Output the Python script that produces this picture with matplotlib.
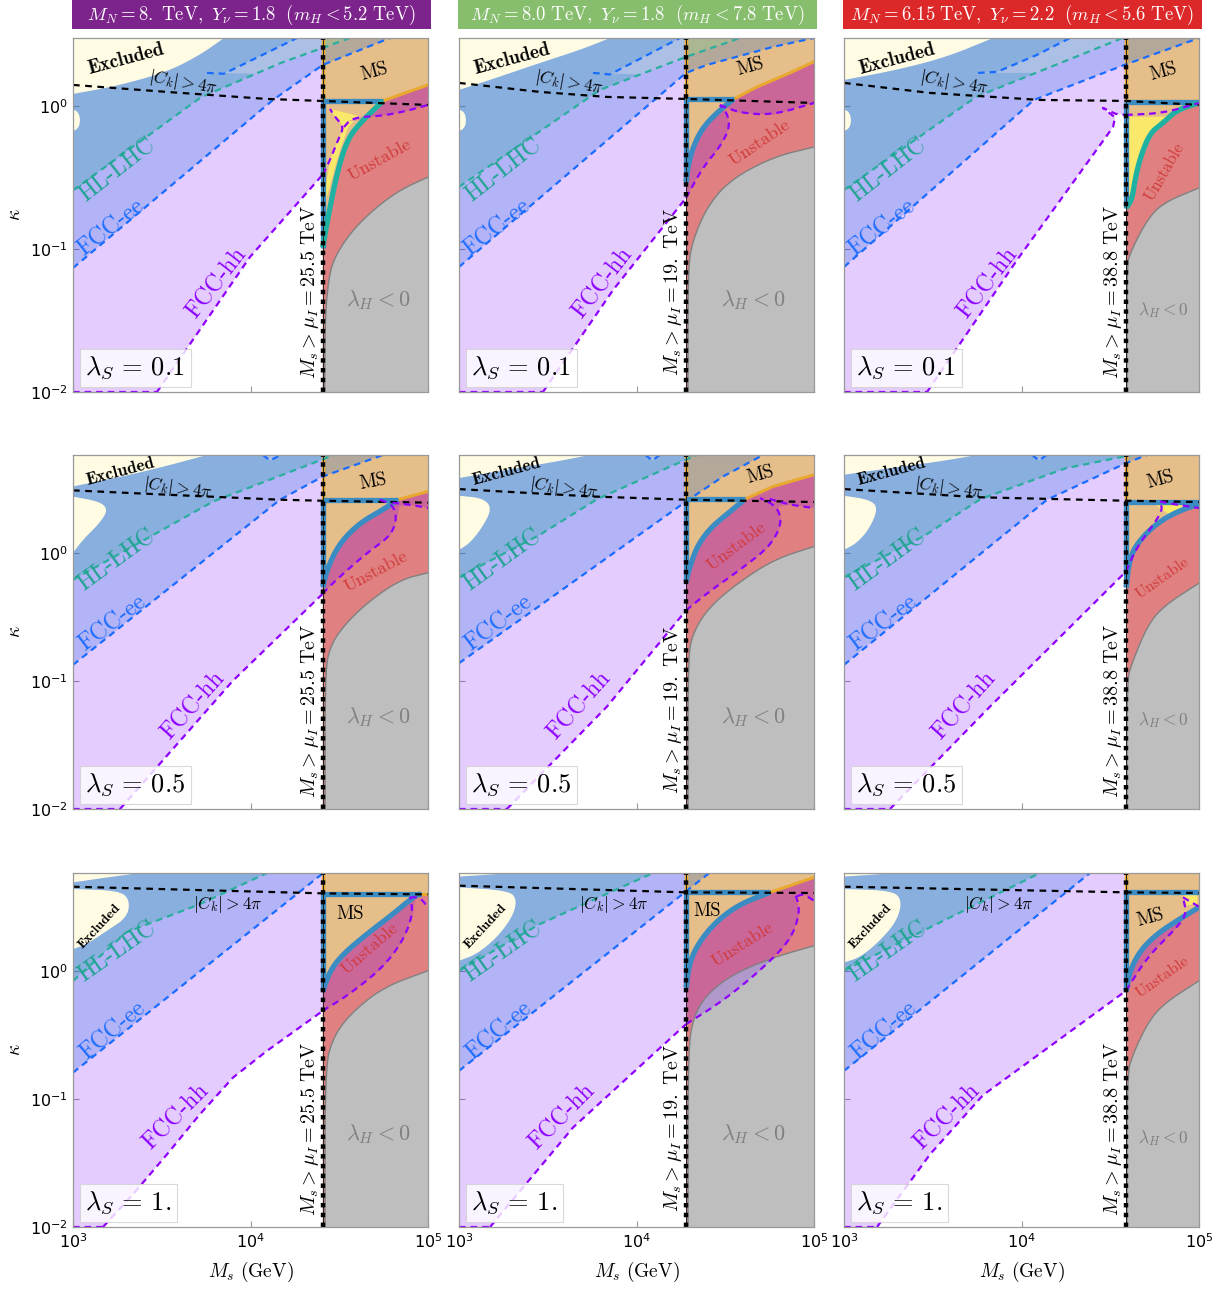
import numpy as np
import matplotlib
matplotlib.use('Agg')
import matplotlib.pyplot as plt
from matplotlib.patches import Rectangle, PathPatch
from matplotlib.path import Path
from matplotlib.ticker import NullLocator

# ---- benchmark parameters (one per column / row) ----
MN = ['8.', '8.0', '6.15']
Ynu = ['1.8', '1.8', '2.2']
mH = ['5.2', '7.8', '5.6']
muI_TeV = [25.5, 19., 38.8]
muI_lbl = ['25.5', '19.', '38.8']
lamS = ['0.1', '0.5', '1.']
head_col = ['#7D238C', '#87BE6E', '#DC2828']
y_top = [0.475, 0.763, 0.763]          # log10 of kappa upper limit per row

# ---- region boundaries, (log10 Ms/GeV, log10 kappa), panels row-major ----
ck_line = [
    [(3.0, 0.147), (3.53, 0.098), (4.09, 0.049), (4.40, 0.035), (5.0, 0.007)],
    [(3.0, 0.161), (3.456, 0.098), (3.834, 0.063), (4.279, 0.049), (5.0, 0.021)],
    [(3.0, 0.161), (3.485, 0.091), (4.104, 0.042), (4.589, 0.035), (5.0, 0.007)],
    [(3.0, 0.487), (3.53, 0.453), (4.166, 0.414), (4.407, 0.406), (5.0, 0.391)],
    [(3.0, 0.497), (3.738, 0.44), (4.279, 0.414), (5.0, 0.396)],
    [(3.0, 0.497), (3.766, 0.433), (4.589, 0.406), (5.0, 0.396)],
    [(3.0, 0.656), (4.407, 0.604), (5.0, 0.596)],
    [(3.0, 0.664), (4.279, 0.612), (5.0, 0.607)],
    [(3.0, 0.656), (4.589, 0.612), (5.0, 0.607)],
]
excl_top = [
    [(3.0, 0.084), (3.248, 0.140), (3.53, 0.238), (3.716, 0.357), (3.851, 0.475)],
    [(3.0, 0.112), (3.175, 0.182), (3.456, 0.301), (3.682, 0.392), (3.851, 0.475)],
    [(3.0, 0.182), (3.3, 0.252), (3.58, 0.343), (3.84, 0.475)],
    [(3.0, 0.518), (3.248, 0.586), (3.49, 0.664), (3.755, 0.763)],
    [(3.0, 0.583), (3.27, 0.648), (3.513, 0.703), (3.738, 0.763)],
    [(3.0, 0.609), (3.259, 0.661), (3.541, 0.713), (3.749, 0.763)],
    [(3.0, 0.69), (3.2, 0.73), (3.377, 0.763)],
    [(3.0, 0.735), (3.3, 0.763)],
    [(3.0, 0.735), (3.3, 0.763)],
]
excl_blob = [
    [(3.0, -0.025), (3.02, -0.035), (3.035, -0.06), (3.04, -0.10), (3.035, -0.14), (3.02, -0.165), (3.0, -0.175)],
    [(3.0, -0.025), (3.02, -0.035), (3.035, -0.06), (3.04, -0.10), (3.035, -0.14), (3.02, -0.165), (3.0, -0.175)],
    [(3.0, -0.025), (3.02, -0.035), (3.035, -0.06), (3.04, -0.10), (3.035, -0.14), (3.02, -0.165), (3.0, -0.175)],
    [(3.0, 0.438), (3.152, 0.399), (3.197, 0.336), (3.152, 0.234), (3.056, 0.102), (3.0, 0.0)],
    [(3.0, 0.445), (3.135, 0.426), (3.186, 0.349), (3.135, 0.206), (3.062, 0.076), (3.0, 0.023)],
    [(3.0, 0.445), (3.146, 0.414), (3.192, 0.349), (3.146, 0.193), (3.073, 0.076), (3.0, 0.023)],
    [(3.0, 0.638), (3.265, 0.625), (3.321, 0.547), (3.304, 0.416), (3.192, 0.313), (3.079, 0.208), (3.0, 0.169)],
    [(3.0, 0.651), (3.287, 0.625), (3.327, 0.547), (3.299, 0.416), (3.214, 0.26), (3.101, 0.13), (3.0, 0.078)],
    [(3.0, 0.638), (3.276, 0.625), (3.327, 0.547), (3.299, 0.391), (3.203, 0.234), (3.09, 0.104), (3.0, 0.065)],
]
hl_line = [
    [(3.0, -0.59), (3.72, 0.06), (4.17, 0.30), (4.56, 0.475)],
    [(3.0, -0.566), (3.794, 0.112), (4.279, 0.343), (4.583, 0.475)],
    [(3.0, -0.587), (3.744, 0.063), (4.569, 0.475)],
    [(3.0, -0.211), (3.789, 0.40), (4.39, 0.72), (4.47, 0.763)],
    [(3.0, -0.19), (3.456, 0.141), (3.78, 0.42), (4.279, 0.727), (4.34, 0.763)],
    [(3.0, -0.19), (3.45, 0.13), (3.77, 0.42), (4.25, 0.66), (4.62, 0.763)],
    [(3.0, -0.08), (3.30, 0.30), (3.715, 0.52), (4.093, 0.763)],
    [(3.0, 0.0), (3.456, 0.365), (4.093, 0.763)],
    [(3.0, 0.0), (3.485, 0.339), (4.104, 0.763)],
]
ee_line = [
    [(3.0, -1.133), (4.127, 0.042), (4.407, 0.287), (4.786, 0.475)],
    [(3.0, -1.126), (4.279, 0.231), (4.397, 0.287), (4.769, 0.413), (5.0, 0.475)],
    [(3.0, -1.126), (4.07, 0.042), (4.58, 0.287), (5.0, 0.475)],
    [(3.0, -0.875), (4.166, 0.414), (4.407, 0.595), (4.746, 0.763)],
    [(3.0, -0.862), (4.279, 0.40), (4.487, 0.595), (4.713, 0.763)],
    [(3.0, -0.875), (4.144, 0.414), (4.589, 0.70), (4.707, 0.763)],
    [(3.0, -0.795), (4.41, 0.763)],
    [(3.0, -0.781), (4.41, 0.763)],
    [(3.0, -0.781), (4.386, 0.763)],
]
ee_upper = [
    [(3.755, 0.231), (3.85, 0.225), (4.262, 0.475)],
    [(3.755, 0.231), (3.85, 0.22), (4.245, 0.475)],
    [(3.755, 0.231), (3.862, 0.238), (4.087, 0.357), (4.273, 0.475)],
    [(4.07, 0.763), (4.11, 0.72), (4.17, 0.763)],
    [(4.05, 0.763), (4.09, 0.72), (4.13, 0.763)],
    [(4.06, 0.763), (4.10, 0.72), (4.14, 0.763)],
    [], [], [],
]
ee_hole = [
    [(3.755, 0.231), (3.85, 0.225), (4.262, 0.475), (4.56, 0.475), (4.17, 0.30), (4.03, 0.225)],
    [(3.755, 0.231), (3.85, 0.22), (4.245, 0.475), (4.583, 0.475), (4.279, 0.343), (4.02, 0.22)],
    [(3.755, 0.231), (3.862, 0.238), (4.087, 0.357), (4.273, 0.475), (4.569, 0.475), (4.08, 0.231)],
    [(4.07, 0.763), (4.11, 0.72), (4.17, 0.763)],
    [(4.05, 0.763), (4.09, 0.72), (4.13, 0.763)],
    [(4.06, 0.763), (4.10, 0.72), (4.14, 0.763)],
    [], [], [],
]
hh_line = [
    [(3.473, -2.0), (3.997, -1.056), (4.407, -0.48)],
    [(3.473, -2.0), (3.868, -1.287), (4.279, -0.643)],
    [(3.468, -2.0), (3.975, -1.077), (4.516, -0.147), (4.527, -0.08), (4.459, -0.014), (4.53, -0.055), (4.589, -0.063)],
    [(3.265, -2.0), (3.9, -1.0), (4.407, -0.32)],
    [(3.27, -2.0), (3.834, -1.2), (4.279, -0.45)],
    [(3.259, -2.0), (3.823, -1.2), (4.589, -0.146)],
    [(3.169, -2.0), (3.338, -1.745), (3.53, -1.432), (3.715, -1.12), (3.901, -0.834), (4.093, -0.625), (4.407, -0.313)],
    [(3.175, -2.0), (3.642, -1.224), (4.279, -0.417)],
    [(3.186, -2.0), (3.485, -1.432), (3.783, -0.971), (4.589, -0.156)],
]
hh_right = [
    [[(4.407, -0.48), (4.448, -0.378), (4.493, -0.238), (4.527, -0.147), (4.476, -0.077), (4.448, -0.021)],
     [(4.527, -0.147), (4.56, -0.10), (4.617, -0.077), (4.73, -0.07), (4.859, -0.042), (5.0, 0.007)]],
    [[(4.279, -0.643), (4.375, -0.427), (4.47, -0.287), (4.527, -0.147), (4.51, -0.049), (4.47, 0.007)],
     [(4.47, 0.007), (4.583, -0.049), (4.769, -0.063), (5.0, 0.021)]],
    [[(4.589, -0.063), (4.8, -0.05), (5.0, 0.021)]],
    [[(4.407, -0.32), (4.465, -0.234), (4.656, 0.0), (4.786, 0.127), (4.825, 0.258), (4.803, 0.375), (4.73, 0.414)],
     [(4.80, 0.39), (4.9, 0.375), (5.0, 0.35)]],
    [[(4.279, -0.45), (4.397, -0.316), (4.583, -0.133), (4.752, 0.049), (4.82, 0.23), (4.792, 0.361), (4.696, 0.427)],
     [(4.75, 0.42), (4.865, 0.375), (5.0, 0.349)]],
    [[(4.589, -0.146), (4.651, 0.049), (4.797, 0.321), (4.78, 0.40)],
     [(4.78, 0.40), (4.876, 0.375), (5.0, 0.349)]],
    [[(4.407, -0.313), (4.561, -0.18), (4.746, 0.026), (4.859, 0.234), (4.916, 0.443), (4.899, 0.573)],
     [(4.899, 0.573), (4.955, 0.573), (5.0, 0.495)]],
    [[(4.279, -0.417), (4.487, -0.234), (4.696, 0.0), (4.865, 0.234), (4.92, 0.443), (4.904, 0.573), (4.88, 0.61)],
     [(4.904, 0.58), (4.938, 0.6), (5.0, 0.547)]],
    [[(4.589, -0.156), (4.707, 0.104), (4.876, 0.339), (4.93, 0.443), (4.91, 0.573)],
     [(4.91, 0.573), (5.0, 0.5)]],
]
gray_edge = [
    [(4.418, -2.0), (4.42, -1.5), (4.437, -1.238), (4.465, -1.077), (4.561, -0.888), (4.69, -0.727), (4.842, -0.587), (5.0, -0.497)],
    [(4.29, -2.0), (4.29, -1.126), (4.318, -0.937), (4.397, -0.706), (4.527, -0.517), (4.769, -0.357), (5.0, -0.287)],
    [(4.594, -2.0), (4.594, -1.126), (4.611, -1.028), (4.707, -0.797), (4.797, -0.678), (5.0, -0.573)],
    [(4.42, -2.0), (4.42, -0.938), (4.448, -0.732), (4.521, -0.576), (4.656, -0.391), (4.842, -0.211), (5.0, -0.156)],
    [(4.29, -2.0), (4.29, -0.81), (4.318, -0.628), (4.397, -0.445), (4.544, -0.263), (4.769, -0.055), (5.0, 0.049)],
    [(4.594, -2.0), (4.594, -1.0), (4.622, -0.862), (4.707, -0.576), (4.797, -0.419), (5.0, -0.237)],
    [(4.42, -2.0), (4.42, -0.755), (4.465, -0.521), (4.561, -0.338), (4.746, -0.13), (5.0, 0.0)],
    [(4.29, -2.0), (4.29, -0.651), (4.318, -0.365), (4.397, -0.182), (4.544, -0.026), (4.769, 0.104), (5.0, 0.195)],
    [(4.594, -2.0), (4.594, -0.807), (4.628, -0.651), (4.707, -0.417), (4.797, -0.26), (5.0, -0.078)],
]
box_top = [0.035, 0.049, 0.03, 0.414, 0.418, 0.40, 0.6, 0.612, 0.612]
box_curve = [
    [(4.746, 0.035), (4.617, -0.119), (4.544, -0.238), (4.487, -0.469), (4.437, -0.776), (4.407, -0.99)],
    [(4.549, 0.049), (4.47, -0.028), (4.375, -0.147), (4.318, -0.287), (4.29, -0.427), (4.279, -0.531)],
    [(5.0, 0.021), (4.876, -0.028), (4.797, -0.119), (4.724, -0.189), (4.67, -0.357), (4.639, -0.517), (4.622, -0.657), (4.589, -0.713)],
    [(4.831, 0.414), (4.746, 0.336), (4.617, 0.234), (4.504, 0.078), (4.437, -0.107), (4.407, -0.264)],
    [(4.611, 0.418), (4.527, 0.321), (4.414, 0.191), (4.341, 0.049), (4.301, -0.107), (4.279, -0.225)],
    [(5.0, 0.38), (4.876, 0.321), (4.763, 0.23), (4.668, 0.102), (4.611, -0.029), (4.589, -0.27)],
    [(4.96, 0.6), (4.927, 0.586), (4.803, 0.443), (4.656, 0.287), (4.521, 0.13), (4.448, 0.0), (4.407, -0.16)],
    [(4.752, 0.612), (4.583, 0.521), (4.454, 0.391), (4.358, 0.234), (4.301, 0.078), (4.279, -0.13)],
    [(5.0, 0.495), (4.876, 0.391), (4.763, 0.287), (4.668, 0.156), (4.611, 0.0), (4.589, -0.156)],
]
curve_teal = [True, False, True, False, False, False, False, False, False]
ms_edge = [
    [(4.746, 0.035), (4.87, 0.09), (5.0, 0.147)],
    [(4.549, 0.049), (4.679, 0.133), (4.865, 0.231), (5.0, 0.31)],
    [(5.0, 0.03)],
    [(4.831, 0.414), (5.0, 0.479)],
    [(4.611, 0.418), (4.769, 0.517), (5.0, 0.609)],
    [(5.0, 0.40)],
    [(4.96, 0.6), (5.0, 0.6)],
    [(4.752, 0.612), (4.865, 0.664), (5.0, 0.729)],
    [(5.0, 0.612)],
]
yellow = [
    [(4.448, -0.021), (4.606, -0.07), (4.549, -0.154), (4.504, -0.308), (4.465, -0.483), (4.425, -0.657),
     (4.414, -0.692), (4.425, -0.552), (4.448, -0.378), (4.493, -0.238), (4.527, -0.147), (4.476, -0.077)],
    [],
    [(4.605, -0.075), (4.85, -0.075), (4.797, -0.119), (4.724, -0.189), (4.67, -0.357), (4.639, -0.517),
     (4.622, -0.657), (4.60, -0.60)],
    [], [],
    [(4.74, 0.39), (4.93, 0.37), (4.84, 0.29)],
    [], [],
    [(4.91, 0.6), (4.99, 0.6), (4.99, 0.521), (4.93, 0.51)],
]
hh_overlap = [
    [(4.532, -0.112), (4.617, -0.077), (4.73, -0.07), (4.859, -0.042), (5.0, 0.007), (5.0, 0.147), (4.87, 0.09),
     (4.746, 0.035), (4.617, -0.098)],
    [(4.279, -0.643), (4.375, -0.427), (4.47, -0.287), (4.527, -0.147), (4.51, -0.049), (4.47, 0.007), (4.583, -0.049),
     (4.769, -0.063), (5.0, 0.021), (5.0, 0.31), (4.865, 0.231), (4.679, 0.133), (4.549, 0.049), (4.47, -0.028),
     (4.375, -0.147), (4.318, -0.287), (4.29, -0.427), (4.279, -0.531)],
    [],
    [(4.407, -0.32), (4.465, -0.234), (4.656, 0.0), (4.786, 0.127), (4.825, 0.258), (4.84, 0.36), (4.9, 0.375),
     (5.0, 0.35), (5.0, 0.479), (4.831, 0.414), (4.746, 0.336), (4.617, 0.234), (4.504, 0.078), (4.437, -0.107),
     (4.407, -0.264)],
    [(4.279, -0.45), (4.397, -0.316), (4.583, -0.133), (4.752, 0.049), (4.82, 0.23), (4.80, 0.36), (4.865, 0.375),
     (5.0, 0.349), (5.0, 0.609), (4.769, 0.517), (4.611, 0.418), (4.527, 0.321), (4.414, 0.191), (4.341, 0.049),
     (4.301, -0.107), (4.279, -0.225)],
    [],
    [(4.407, -0.313), (4.561, -0.18), (4.746, 0.026), (4.859, 0.234), (4.916, 0.443), (4.93, 0.58), (4.927, 0.586),
     (4.803, 0.443), (4.656, 0.287), (4.521, 0.13), (4.448, 0.0), (4.408, -0.13), (4.407, -0.16)],
    [(4.279, -0.417), (4.487, -0.234), (4.696, 0.0), (4.865, 0.234), (4.92, 0.443), (4.904, 0.573), (4.938, 0.6),
     (5.0, 0.547), (5.0, 0.729), (4.865, 0.664), (4.752, 0.612), (4.583, 0.521), (4.454, 0.391), (4.358, 0.234),
     (4.301, 0.078), (4.279, -0.13)],
    [(4.589, -0.156), (4.707, 0.104), (4.876, 0.339), (4.93, 0.443), (4.95, 0.47), (5.0, 0.495), (4.876, 0.391),
     (4.763, 0.287), (4.668, 0.156), (4.611, 0.0)],
]

# ---- colours ----
RED, GRAY, MS_C, YEL, CREAM = '#E08080', '#BEBEBE', '#E5BE8A', '#F9E86A', '#FFFCE3'
HH_F, EE_F, HL_F = '#7B00FF', '#005ADC', '#28A7A8'
HH_L, EE_L, HL_L = '#8F00FF', '#1A6CFF', '#2AAE9E'
BOX_B, BOX_T, ORANGE = '#3A8CC2', '#1FB2A2', '#E9A92E'
DASH = (0, (3, 2.2))


def smooth(pts, it=3):
    # corner cutting so the curved edges do not look faceted; end points kept
    p = np.asarray(pts, float)
    if len(p) < 3:
        return p
    for _ in range(it):
        q = 0.75 * p[:-1] + 0.25 * p[1:]
        s = 0.25 * p[:-1] + 0.75 * p[1:]
        mid = np.empty((2 * len(q), 2))
        mid[0::2], mid[1::2] = q, s
        p = np.vstack([p[:1], mid, p[-1:]])
    return p


def lg(a):
    a = np.asarray(a, float)
    return 10 ** a[:, 0], 10 ** a[:, 1]


def signed_area(p):
    x, y = p[:, 0], p[:, 1]
    return 0.5 * np.sum(x * np.roll(y, -1) - np.roll(x, -1) * y)


def region(ax, outer, holes=(), **kw):
    rings = []
    o = np.asarray(outer, float)
    rings.append(o if signed_area(o) > 0 else o[::-1])
    for h in holes:
        if len(h) < 3:
            continue
        h = np.asarray(h, float)
        rings.append(h if signed_area(h) < 0 else h[::-1])
    verts, codes = [], []
    for ring in rings:
        v = 10 ** ring
        verts += list(v) + [v[0]]
        codes += [Path.MOVETO] + [Path.LINETO] * (len(v) - 1) + [Path.CLOSEPOLY]
    ax.add_patch(PathPatch(Path(verts, codes), **kw))


def line(ax, pts, **kw):
    if len(pts) > 1:
        ax.plot(*lg(pts), **kw)


def cat(*parts):
    return np.vstack([np.asarray(p, float).reshape(-1, 2) for p in parts if len(p)])


def label(ax, x, y, s, **kw):
    kw.setdefault('math_fontfamily', 'cm')
    ax.text(10 ** x, 10 ** y, s, ha='center', va='center', rotation_mode='anchor', zorder=9, **kw)


# left-side labels: x, y, rotation (, size) for each row
left_lbl = [
    dict(excl=(3.30, 0.33, 15, 14), ck=(3.62, 0.165, -10), hl=(3.25, -0.45, 38), ee=(3.215, -0.85, 38), hh=(3.81, -1.24, 52)),
    dict(excl=(3.265, 0.635, 15, 12.5), ck=(3.59, 0.505, -8), hl=(3.248, -0.06, 36), ee=(3.225, -0.55, 37), hh=(3.68, -1.19, 48)),
    dict(excl=(3.15, 0.345, 47, 10), ck=(3.87, 0.52, 0), hl=(3.248, 0.15, 35), ee=(3.225, -0.47, 40), hh=(3.58, -1.14, 45)),
]
# right-side labels per panel: MS (x, y, rot), Unstable (x, y, rot, size), lambda_H (x, y, size)
right_lbl = [
    ((4.70, 0.238, 15), (4.73, -0.378, 29, 13), (4.72, -1.36, 16)),
    ((4.64, 0.273, 15), (4.696, -0.259, 34, 13), (4.656, -1.357, 16)),
    ((4.797, 0.238, 15), (4.808, -0.462, 60, 12), (4.797, -1.427, 12.5)),
    ((4.69, 0.557, 10), (4.71, -0.146, 28, 13), (4.72, -1.279, 16)),
    ((4.696, 0.609, 15), (4.566, 0.049, 37, 13), (4.656, -1.279, 16)),
    ((4.78, 0.57, 15), (4.797, -0.198, 35, 11.5), (4.797, -1.305, 12.5)),
    ((4.561, 0.443, 0), (4.673, 0.169, 41, 13), (4.72, -1.276, 16)),
    ((4.397, 0.469, 0), (4.60, 0.208, 32, 13), (4.656, -1.276, 16)),
    ((4.724, 0.417, 15), (4.797, -0.052, 35, 11.5), (4.797, -1.302, 12.5)),
]
mu_text_y = [-1.30, -1.23, -1.23]

W, H = 1222, 1292
col_left = [73, 459, 844]
row_top = [38, 455, 873]
AW, AH = 355, 354

fig = plt.figure(figsize=(W / 100, H / 100), dpi=100)

for i in range(9):
    r, c = divmod(i, 3)
    top = y_top[r]
    mu = np.log10(muI_TeV[c] * 1e3)
    ax = fig.add_axes([col_left[c] / W, 1 - (row_top[r] + AH) / H, AW / W, AH / H])
    ax.set_xscale('log')
    ax.set_yscale('log')

    gp = smooth(gray_edge[i])
    bc = smooth(box_curve[i])

    # right of mu_I: instability, lambda_H < 0 and the MS band
    region(ax, cat([(mu, top), (5.0, top)], gp[::-1], [(mu, -2.0)]), fc=RED, ec='none', zorder=1)
    region(ax, cat(gp, [(5.0, -2.0)]), fc=GRAY, ec='none', zorder=1.1)
    region(ax, cat([(mu, top), (5.0, top)], ms_edge[i][::-1], bc), fc=MS_C, ec='none', zorder=1.2)
    if yellow[i]:
        region(ax, yellow[i], fc=YEL, ec='none', zorder=1.3)

    # collider reach, translucent so overlaps blend
    region(ax, hh_line[i] + [(hh_line[i][-1][0], top), (3.0, top), (3.0, -2.0)],
           fc=HH_F, alpha=0.2, ec='none', zorder=2)
    if hh_overlap[i]:
        region(ax, hh_overlap[i], fc=HH_F, alpha=0.2, ec='none', zorder=2)
    region(ax, ee_line[i] + [(3.0, top)], holes=[ee_hole[i]], fc=EE_F, alpha=0.21, ec='none', zorder=2.1)
    region(ax, hl_line[i] + [(3.0, top)], fc=HL_F, alpha=0.3, ec='none', zorder=2.2)

    # excluded areas
    region(ax, cat(smooth(excl_top[i]), [(3.0, top)]), fc=CREAM, ec='none', zorder=3)
    region(ax, smooth(excl_blob[i]), fc=CREAM, ec='none', zorder=3)

    # boundaries
    line(ax, [(3.0, -2.0), hh_line[i][0]], color=HH_L, lw=1.6, ls=DASH, zorder=5)
    line(ax, hh_line[i], color=HH_L, lw=1.6, ls=DASH, zorder=5)
    for seg in hh_right[i]:
        line(ax, smooth(seg), color=HH_L, lw=1.6, ls=DASH, zorder=6.6)
    line(ax, ee_line[i], color=EE_L, lw=1.6, ls=DASH, zorder=5)
    line(ax, ee_upper[i], color=EE_L, lw=1.6, ls=DASH, zorder=5)
    line(ax, hl_line[i], color=HL_L, lw=1.6, ls=DASH, zorder=5)
    line(ax, gp, color='#808080', lw=1.0, zorder=4)
    line(ax, ms_edge[i], color=ORANGE, lw=2.2, zorder=4)
    line(ax, [(mu, box_top[i]), (mu, top)], color=ORANGE, lw=2.5, zorder=4)

    # stability box
    bt = box_top[i]
    corner = box_curve[i][0][0]
    line(ax, [(mu, bt), (corner, bt)], color=BOX_B, lw=3.8, solid_capstyle='butt', zorder=6)
    line(ax, [(mu, bt), (mu, box_curve[i][-1][1])], color=BOX_B, lw=3.8, solid_capstyle='butt', zorder=6)
    line(ax, bc, color=BOX_T if curve_teal[i] else BOX_B, lw=3.8,
         solid_capstyle='butt', solid_joinstyle='round', zorder=6)
    line(ax, ck_line[i], color='black', lw=1.6, ls=(0, (3, 2.5)), zorder=6.5)

    # M_s = mu_I cut
    ax.plot([10 ** mu] * 2, [1e-2, 10 ** top], color='#222222', lw=0.7, zorder=7)
    ax.plot([10 ** mu] * 2, [1e-2, 10 ** top], color='black', lw=3.2, ls=(0, (1, 1.2)), zorder=7)

    # labels
    L = left_lbl[r]
    ex = L['excl']
    label(ax, ex[0], ex[1], 'Excluded', rotation=ex[2], fontsize=ex[3], fontfamily='cmb10', color='black')
    ck = L['ck']
    label(ax, ck[0], ck[1], r'$|C_k| > 4\pi$', rotation=ck[2], fontsize=12.5, color='black')
    hl = L['hl']
    label(ax, hl[0], hl[1], 'HL-LHC', rotation=hl[2], fontsize=17, fontfamily='cmr10', color='#1FA390')
    ee = L['ee']
    label(ax, ee[0], ee[1], 'FCC-ee', rotation=ee[2], fontsize=17, fontfamily='cmr10', color='#1E6EFF')
    hh = L['hh']
    label(ax, hh[0], hh[1], 'FCC-hh', rotation=hh[2], fontsize=17, fontfamily='cmr10', color='#8C00FF')
    ms_l, un_l, lh_l = right_lbl[i]
    label(ax, ms_l[0], ms_l[1], 'MS', rotation=ms_l[2], fontsize=13.5, fontfamily='cmr10', color='black')
    label(ax, un_l[0], un_l[1], 'Unstable', rotation=un_l[2], fontsize=un_l[3], fontfamily='cmr10', color='#D03A3A')
    label(ax, lh_l[0], lh_l[1], r'$\lambda_H < 0$', fontsize=lh_l[2], color='#808080')

    ax.text(10 ** (mu - 0.012), 10 ** mu_text_y[r], rf'$M_s > \mu_I = {muI_lbl[c]}\ \mathrm{{TeV}}$',
            rotation=90, ha='right', va='center', fontsize=14.5, math_fontfamily='cm', zorder=9)
    ax.text(0.035, 0.03, rf'$\lambda_S\, =\, {lamS[r]}$', transform=ax.transAxes, ha='left', va='bottom',
            fontsize=19, math_fontfamily='cm', zorder=9,
            bbox=dict(boxstyle='square,pad=0.22', fc='white', ec='#d0d0d0', lw=0.8, alpha=0.8))

    # axes
    ax.set_xlim(1e3, 1e5)
    ax.set_ylim(1e-2, 10 ** top)
    ax.set_xticks([1e3, 1e4, 1e5])
    ax.set_yticks([1e-2, 1e-1, 1.0])
    ax.xaxis.set_minor_locator(NullLocator())
    ax.yaxis.set_minor_locator(NullLocator())
    ax.set_xticklabels([r'$10^3$', r'$10^4$', r'$10^5$'] if r == 2 else [])
    ax.set_yticklabels([r'$10^{-2}$', r'$10^{-1}$', r'$10^{0}$'] if c == 0 else [])
    ax.tick_params(direction='in', length=4, width=0.8, color='#999999', labelsize=11.5, pad=4)
    for sp in ax.spines.values():
        sp.set_color('#999999')
        sp.set_linewidth(0.9)
        sp.set_zorder(10)

    if c == 0:
        fig.text(14 / W, 1 - (row_top[r] + AH / 2) / H, r'$\kappa$', rotation=90, ha='center', va='center',
                 fontsize=14, math_fontfamily='cm')
    if r == 2:
        fig.text((col_left[c] + AW / 2) / W, 1 - 1272 / H, r'$M_s\ (\mathrm{GeV})$', ha='center', va='center',
                 fontsize=14, math_fontfamily='cm')

# column headers
for c in range(3):
    x0 = (col_left[c] - 1) / W
    w = (AW + 4) / W
    fig.patches.append(Rectangle((x0, 1 - 29 / H), w, 29 / H, transform=fig.transFigure,
                                 fc=head_col[c], ec='none'))
    fig.text(x0 + w / 2, 1 - 14.5 / H,
             rf'$M_N = {MN[c]}\ \mathrm{{TeV}},\ Y_\nu = {Ynu[c]}\ \ (m_H < {mH[c]}\ \mathrm{{TeV}})$',
             color='white', fontsize=13.5, ha='center', va='center', math_fontfamily='cm')

fig.savefig('out.png', dpi=100)
